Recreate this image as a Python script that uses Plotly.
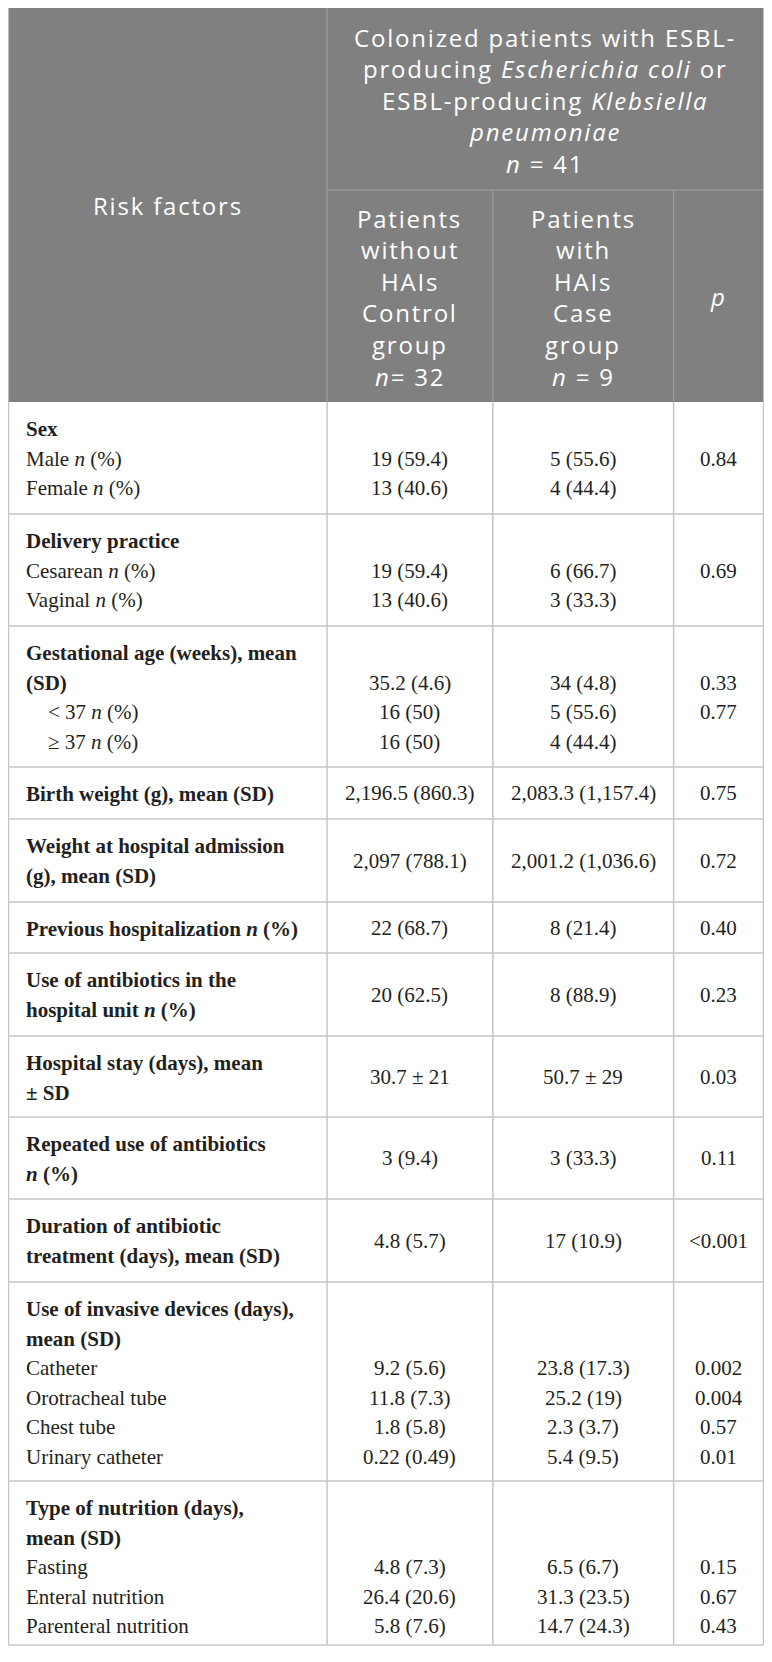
import plotly.graph_objects as go

# risk factor text, one entry per table row, one string per printed line
factor_lines = [
    ["<b>Sex</b>", "Male <i>n</i> (%)", "Female <i>n</i> (%)"],
    ["<b>Delivery practice</b>", "Cesarean <i>n</i> (%)", "Vaginal <i>n</i> (%)"],
    ["<b>Gestational age (weeks), mean</b>", "<b>(SD)</b>", "&lt; 37 <i>n</i> (%)", "≥ 37 <i>n</i> (%)"],
    ["<b>Birth weight (g), mean (SD)</b>"],
    ["<b>Weight at hospital admission</b>", "<b>(g), mean (SD)</b>"],
    ["<b>Previous hospitalization <i>n</i> (%)</b>"],
    ["<b>Use of antibiotics in the</b>", "<b>hospital unit <i>n</i> (%)</b>"],
    ["<b>Hospital stay (days), mean</b>", "<b>± SD</b>"],
    ["<b>Repeated use of antibiotics</b>", "<b><i>n</i> (%)</b>"],
    ["<b>Duration of antibiotic</b>", "<b>treatment (days), mean (SD)</b>"],
    ["<b>Use of invasive devices (days),</b>", "<b>mean (SD)</b>", "Catheter",
     "Orotracheal tube", "Chest tube", "Urinary catheter"],
    ["<b>Type of nutrition (days),</b>", "<b>mean (SD)</b>", "Fasting",
     "Enteral nutrition", "Parenteral nutrition"],
]
indented = [(2, 2), (2, 3)]

# a list = values on the matching lines, a plain string = centred in the row
control_group = [
    ["", "19 (59.4)", "13 (40.6)"],
    ["", "19 (59.4)", "13 (40.6)"],
    ["", "35.2 (4.6)", "16 (50)", "16 (50)"],
    "2,196.5 (860.3)",
    "2,097 (788.1)",
    "22 (68.7)",
    "20 (62.5)",
    "30.7 ± 21",
    "3 (9.4)",
    "4.8 (5.7)",
    ["", "", "9.2 (5.6)", "11.8 (7.3)", "1.8 (5.8)", "0.22 (0.49)"],
    ["", "", "4.8 (7.3)", "26.4 (20.6)", "5.8 (7.6)"],
]
case_group = [
    ["", "5 (55.6)", "4 (44.4)"],
    ["", "6 (66.7)", "3 (33.3)"],
    ["", "34 (4.8)", "5 (55.6)", "4 (44.4)"],
    "2,083.3 (1,157.4)",
    "2,001.2 (1,036.6)",
    "8 (21.4)",
    "8 (88.9)",
    "50.7 ± 29",
    "3 (33.3)",
    "17 (10.9)",
    ["", "", "23.8 (17.3)", "25.2 (19)", "2.3 (3.7)", "5.4 (9.5)"],
    ["", "", "6.5 (6.7)", "31.3 (23.5)", "14.7 (24.3)"],
]
p_values = [
    ["", "0.84"],
    ["", "0.69"],
    ["", "0.33", "0.77"],
    "0.75",
    "0.72",
    "0.40",
    "0.23",
    "0.03",
    "0.11",
    "&lt;0.001",
    ["", "", "0.002", "0.004", "0.57", "0.01"],
    ["", "", "0.15", "0.67", "0.43"],
]

header_first = "Risk factors"
header_group = ["Colonized patients with ESBL-", "producing <i>Escherichia coli</i> or",
                "ESBL-producing <i>Klebsiella</i>", "<i>pneumoniae</i>", "<i>n</i> = 41"]
header_control = ["Patients", "without", "HAIs", "Control", "group", "<i>n</i>= 32"]
header_case = ["Patients", "with", "HAIs", "Case", "group", "<i>n</i> = 9"]
header_p = "<i>p</i>"

# geometry in page pixels; the page body has an 8px margin, so the figure is
# sized to sit inside the 772x1662 window and the axes map straight to page px
FIG_W, FIG_H = 756, 1640
col_x = [8, 327, 493, 674, 764]
head_top, head_mid, head_bot = 8, 190, 402
row_edges = [402, 514, 626, 767, 819, 902, 953, 1036, 1117, 1199, 1282, 1481, 1645]
line_step = 29.5
first_line = 27

HEAD_BG = "#808080"
HEAD_LINE = "#a3a3a3"
BODY_LINE = "#c6c6c6"
TEXT = "#231f20"
SANS = "Open Sans"
SERIF = "Liberation Serif"

fig = go.Figure()
fig.add_trace(go.Scatter(x=[8, 764], y=[8, 1648], mode="markers",
                         marker=dict(opacity=0), hoverinfo="skip", showlegend=False))

shapes = []
shapes.append(dict(type="rect", x0=col_x[0], x1=col_x[-1], y0=head_top, y1=head_bot,
                   fillcolor=HEAD_BG, line=dict(width=0), layer="below"))
# header inner lines
shapes.append(dict(type="line", x0=col_x[1], x1=col_x[1], y0=head_top, y1=head_bot,
                   line=dict(color=HEAD_LINE, width=1)))
shapes.append(dict(type="line", x0=col_x[1], x1=col_x[-1], y0=head_mid, y1=head_mid,
                   line=dict(color=HEAD_LINE, width=1)))
for cx in col_x[2:4]:
    shapes.append(dict(type="line", x0=cx, x1=cx, y0=head_mid, y1=head_bot,
                       line=dict(color=HEAD_LINE, width=1)))
# body grid
for ry in row_edges[1:]:
    shapes.append(dict(type="line", x0=col_x[0], x1=col_x[-1], y0=ry, y1=ry,
                       line=dict(color=BODY_LINE, width=1.5)))
for cx in col_x:
    shapes.append(dict(type="line", x0=cx, x1=cx, y0=head_bot, y1=row_edges[-1],
                       line=dict(color=BODY_LINE, width=1.5)))

annotations = []


def head_text(txt, x, y):
    annotations.append(dict(
        x=x, y=y, xref="x", yref="y",
        text='<span style="letter-spacing:1.8px">' + txt + '</span>',
        showarrow=False, xanchor="center", yanchor="middle",
        font=dict(family=SANS, size=24, color="white")))


def body_text(txt, x, y, anchor):
    if not txt:
        return
    annotations.append(dict(
        x=x, y=y, xref="x", yref="y", text=txt, showarrow=False,
        xanchor=anchor, yanchor="middle",
        font=dict(family=SERIF, size=21, color=TEXT)))


head_text(header_first, (col_x[0] + col_x[1]) / 2, (head_top + head_bot) / 2)
for i, t in enumerate(header_group):
    head_text(t, (col_x[1] + col_x[-1]) / 2, 37 + i * 31.6)
for i, t in enumerate(header_control):
    head_text(t, (col_x[1] + col_x[2]) / 2, 218 + i * 31.6)
for i, t in enumerate(header_case):
    head_text(t, (col_x[2] + col_x[3]) / 2, 218 + i * 31.6)
head_text(header_p, (col_x[3] + col_x[4]) / 2, (head_mid + head_bot) / 2)

for r, lines in enumerate(factor_lines):
    top, bot = row_edges[r], row_edges[r + 1]
    for i, t in enumerate(lines):
        x = 46 if (r, i) in indented else 24
        body_text(t, x, top + first_line + i * line_step, "left")
    for c, col in enumerate([control_group, case_group, p_values]):
        cx = (col_x[c + 1] + col_x[c + 2]) / 2
        vals = col[r]
        if isinstance(vals, str):
            body_text(vals, cx, (top + bot) / 2, "center")
        else:
            for i, t in enumerate(vals):
                body_text(t, cx, top + first_line + i * line_step, "center")

fig.update_layout(
    width=FIG_W, height=FIG_H,
    margin=dict(l=0, r=0, t=0, b=0),
    paper_bgcolor="white", plot_bgcolor="white",
    xaxis=dict(range=[7.5, 764.5], visible=False, fixedrange=True),
    yaxis=dict(range=[1648, 8], visible=False, fixedrange=True),
    shapes=shapes, annotations=annotations,
    showlegend=False,
)

fig.write_html("out.html")
